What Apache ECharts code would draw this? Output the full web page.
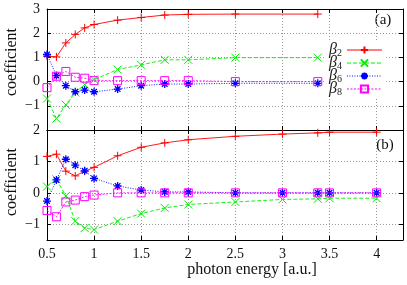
<!DOCTYPE html>
<html><head><meta charset="utf-8">
<script src="https://cdn.jsdelivr.net/npm/echarts@6/dist/echarts.min.js"></script>
<style>html,body{margin:0;padding:0;background:#fff}#c{width:407px;height:285px}</style>
</head><body><div id="c"></div>
<script>
// ---- data ----
const xTop = [0.5, 0.6, 0.7, 0.8, 0.9, 1.0, 1.25, 1.5, 1.75, 2.0, 2.5, 3.375];
const beta2Top = [1.05, 1.02, 1.6, 1.95, 2.22, 2.36, 2.54, 2.65, 2.75, 2.78, 2.79, 2.79];
const beta4Top = [-0.70, -1.53, -0.96, -0.45, -0.12, 0.08, 0.5, 0.69, 0.9, 0.9, 0.99, 0.99];
const beta6Top = [1.12, 0.25, -0.17, -0.42, -0.35, -0.42, -0.31, -0.17, -0.1, -0.1, -0.07, -0.07];
const beta8Top = [-0.25, 0.22, 0.42, 0.18, 0.14, 0.04, 0.04, 0.04, 0.04, 0.04, 0.0, 0.0];

const xBottom = [0.5, 0.6, 0.7, 0.8, 0.9, 1.0, 1.25, 1.5, 1.75, 2.0, 2.5, 3.0, 3.375, 3.5, 4.0];
const beta2Bottom = [1.16, 1.23, 0.69, 0.54, 0.69, 0.81, 1.18, 1.45, 1.59, 1.69, 1.80, 1.87, 1.91, 1.93, 1.93];
const beta4Bottom = [0.2, 0.43, -0.1, -0.9, -1.12, -1.17, -0.9, -0.66, -0.48, -0.37, -0.29, -0.21, -0.19, -0.17, -0.17];
const beta6Bottom = [-0.26, 0.41, 1.07, 0.88, 0.70, 0.46, 0.22, 0.09, 0.03, 0.03, 0, 0, 0, 0, 0];
const beta8Bottom = [-0.56, -0.76, -0.29, -0.23, -0.12, -0.07, 0, 0, 0, 0, 0, 0, 0, 0, 0];

const seriesNames = ['β2', 'β4', 'β6', 'β8'];
const yBottomTicks = [-1, 0, 1, 2];
const xLabel = 'photon energy [a.u.]';
const yLabel = 'coefficient';
const panelLabels = ['(a)', '(b)'];

// ---- styling ----
const FONT = 'Liberation Serif';
const colors = ['#ff0000', '#00ee00', '#0000ff', '#ff00ff'];
const dashes = ['solid', [4, 2], [1, 1.5], [2, 1.5]];
const symbols = [
  'path://M5,0L5,10M0,5L10,5',
  'path://M0,0L10,10M10,0L0,10',
  'path://M5,0L5,10M0,5L10,5M1.5,1.5L8.5,8.5M8.5,1.5L1.5,8.5',
  'path://M0,0L10,0L10,10L0,10Z'
];
const symSizes = [8, 8, 8, 8];
const borderW = [1, 1, 1.3, 1];

const zip = (xs, ys) => xs.map((x, i) => [x, ys[i]]);
const fmtNum = v => String(v).replace('-', '\u2212');

function mk(k, gi, xs, ys) {
  return {
    name: seriesNames[k], type: 'line', xAxisIndex: gi * 2, yAxisIndex: gi * 2,
    data: zip(xs, ys), symbol: symbols[k], symbolSize: symSizes[k], showSymbol: true,
    animation: false, z: 2 + k,
    lineStyle: { color: colors[k], width: 0.9, type: dashes[k] },
    itemStyle: { color: 'rgba(255,255,255,0)', borderColor: colors[k], borderWidth: borderW[k] },
    emphasis: { disabled: true }
  };
}

const grids = [
  { left: 47, top: 9, width: 356, height: 121 },
  { left: 47, top: 130, width: 356, height: 110 }
];
const axisLine = { show: true, onZero: false, lineStyle: { color: '#000', width: 1 } };
const tick = { show: true, inside: true, length: 4, lineStyle: { color: '#000' } };
const split = { show: true, lineStyle: { color: '#999', width: 1, type: [1, 2] } };
const lab = { color: '#111', fontFamily: FONT, fontSize: 14 };

function xAx(gi, pos, labels) {
  return {
    type: 'value', gridIndex: gi, position: pos, min: 0.5, max: 4.28, interval: 0.5,
    axisLine, axisTick: tick, splitLine: pos === 'bottom' ? split : { show: false },
    axisLabel: labels ? Object.assign({ show: true, margin: 7,
      formatter: v => (Math.abs(v * 2 - Math.round(v * 2)) < 1e-6 ? fmtNum(v) : '') }, lab) : { show: false }
  };
}
function yAx(gi, pos, labels) {
  const base = {
    type: 'value', gridIndex: gi, position: pos,
    axisLine, axisTick: Object.assign({}, tick),
    splitLine: pos === 'left' ? split : { show: false },
    axisLabel: labels ? Object.assign({ show: true, margin: 7 }, lab) : { show: false }
  };
  if (gi === 0) {
    base.min = -2; base.max = 3; base.interval = 1;
    if (labels) base.axisLabel.formatter = v => (v <= -2 ? '' : fmtNum(v));
  } else {
    base.min = -1.5; base.max = 2;
    base.axisTick.customValues = yBottomTicks;
    if (labels) { base.axisLabel.customValues = yBottomTicks; base.axisLabel.formatter = v => fmtNum(v); }
  }
  return base;
}

const option = {
  backgroundColor: '#fff',
  animation: false,
  grid: grids,
  xAxis: [xAx(0, 'bottom', false), xAx(0, 'top', false), xAx(1, 'bottom', true), xAx(1, 'top', false)],
  yAxis: [yAx(0, 'left', true), yAx(0, 'right', false), yAx(1, 'left', true), yAx(1, 'right', false)],
  legend: {
    data: seriesNames, orient: 'vertical', left: 325, top: 40, align: 'right',
    itemWidth: 35, itemHeight: 9, itemGap: -3, backgroundColor: '#fff',
    padding: [2, 4, 2, 4], selectedMode: false,
    lineStyle: { width: 1 },
    formatter: n => '{b|β}{s|' + n.slice(1) + '}',
    textStyle: {
      rich: {
        b: { fontFamily: FONT, fontStyle: 'italic', fontSize: 16, lineHeight: 16, color: '#222' },
        s: { fontFamily: FONT, fontSize: 10, lineHeight: 8, verticalAlign: 'bottom', color: '#222' }
      }
    }
  },
  graphic: [
    { type: 'text', x: 252, y: 270, style: { text: xLabel, font: '16px "' + FONT + '"', fill: '#111', textAlign: 'center', textVerticalAlign: 'middle' } },
    { type: 'text', x: 12, y: 62, rotation: Math.PI / 2, style: { text: yLabel, font: '16px "' + FONT + '"', fill: '#111', textAlign: 'center', textVerticalAlign: 'middle' } },
    { type: 'text', x: 12, y: 182, rotation: Math.PI / 2, style: { text: yLabel, font: '16px "' + FONT + '"', fill: '#111', textAlign: 'center', textVerticalAlign: 'middle' } },
    { type: 'text', x: 383, y: 20, style: { text: panelLabels[0], font: '15px "' + FONT + '"', fill: '#111', textAlign: 'center', textVerticalAlign: 'middle' } },
    { type: 'text', x: 385, y: 145, style: { text: panelLabels[1], font: '15px "' + FONT + '"', fill: '#111', textAlign: 'center', textVerticalAlign: 'middle' } }
  ],
  series: [
    mk(0, 0, xTop, beta2Top), mk(1, 0, xTop, beta4Top), mk(2, 0, xTop, beta6Top), mk(3, 0, xTop, beta8Top),
    mk(0, 1, xBottom, beta2Bottom), mk(1, 1, xBottom, beta4Bottom), mk(2, 1, xBottom, beta6Bottom), mk(3, 1, xBottom, beta8Bottom)
  ]
};
const chart = echarts.init(document.getElementById('c'), null, { renderer: 'canvas' });
chart.setOption(option);
</script></body></html>
